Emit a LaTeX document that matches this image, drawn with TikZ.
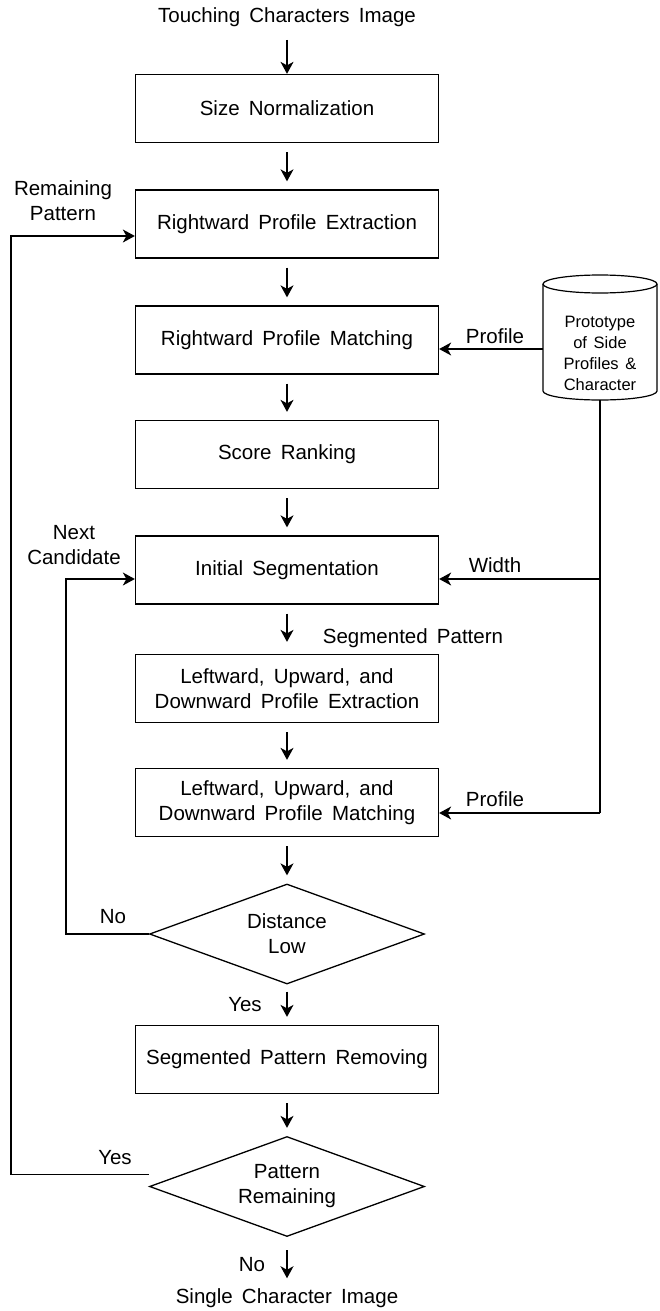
\documentclass[tikz,border=0pt]{standalone}
\usepackage{fontspec}
\setmainfont{Liberation Sans}
\usetikzlibrary{arrows.meta,shapes.geometric,calc}
\newcommand{\mainfnt}{\fontsize{20.5}{25}\selectfont\spaceskip=0.45em plus 0.1em minus 0.05em\relax}
\newcommand{\dbfnt}{\fontsize{16.5}{21}\selectfont\spaceskip=0.4em\relax}
\begin{document}
\begin{tikzpicture}[x=1pt,y=-1pt,
  every node/.style={font=\mainfnt},
  proc/.style={draw, line width=1.3pt, minimum width=303pt, minimum height=68pt, align=center, inner sep=0pt},
  dec/.style={draw, diamond, aspect=2.75, line width=1.3pt, minimum width=275pt, minimum height=100pt, align=center, inner sep=0pt},
  lbl/.style={align=center, inner sep=0pt},
  ln/.style={line width=1.2pt},
  arr/.style={ln, -{Stealth[length=12pt,width=13pt,inset=3.5pt]}},
  flow/.style={arr, shorten <=9pt, shorten >=8pt}]
\useasboundingbox (0,0) rectangle (660,1311);

% main column
\node[lbl] (start) at (287,17) {Touching Characters Image};
\node[proc] (b1) at (287,108.5) {Size Normalization};
\node[proc] (b2) at (287,224) {Rightward Profile Extraction};
\node[proc] (b3) at (287,340) {Rightward Profile Matching};
\node[proc] (b4) at (287,454.5) {Score Ranking};
\node[proc] (b5) at (287,570) {Initial Segmentation};
\node[proc] (b6) at (287,688.5) {Leftward, Upward, and\\Downward Profile Extraction};
\node[proc] (b7) at (287,802.5) {Leftward, Upward, and\\Downward Profile Matching};
\node[dec] (d1) at (287,934) {Distance\\Low};
\node[proc] (b8) at (287,1059.5) {Segmented Pattern Removing};
\node[dec] (d2) at (287,1186.5) {Pattern\\Remaining};
\node[lbl] (end) at (287,1298) {Single Character Image};

% database cylinder
\draw[ln] (600,284) ellipse [x radius=57pt, y radius=9pt];
\draw[ln] (543,284) -- (543,391) .. controls (543,396) and (568,400) .. (600,400)
  .. controls (632,400) and (657,396) .. (657,391) -- (657,284);
\node[lbl, font=\dbfnt] (db) at (600,353) {Prototype\\of Side\\Profiles \&\\Character};
\coordinate (dbW) at (543,349);
\coordinate (dbS) at (600,400);
\coordinate (wj) at (600,579);
\coordinate (pj) at (600,813);

% vertical flow arrows
\draw[arr, shorten <=13pt] (start.south) -- (b1.north);
\draw[flow] (b1.south) -- (b2.north);
\draw[flow] (b2.south) -- (b3.north);
\draw[flow] (b3.south) -- (b4.north);
\draw[flow] (b4.south) -- (b5.north);
\draw[arr, shorten <=9pt, shorten >=12pt] (b5.south) -- (b6.north);
\draw[flow] (b6.south) -- (b7.north);
\draw[flow] (b7.south) -- (d1.north);
\draw[arr, shorten <=7pt, shorten >=8pt] (d1.south) -- (b8.north);
\draw[flow] (b8.south) -- (d2.north);
\draw[arr, shorten <=13pt, shorten >=10pt] (d2.south) -- (end.north);

% database connections
\draw[arr] (dbW) -- (dbW -| b3.east);
\draw[ln] (dbS) -- (pj);
\draw[arr] (wj) -- (wj -| b5.east);
\draw[arr] (pj) -- (pj -| b7.east);

% loops
\coordinate (nc) at (66,579);
\draw[arr] (d1.west) -| (nc) -- (nc -| b5.west);
\coordinate (yd) at ($(d2.west)+(0,-12)$);
\coordinate (rp) at (11,236);
\draw[arr] (yd) -| (rp) -- (rp -| b2.west);

% labels
\node[lbl] (lrp) at (63,201) {Remaining\\Pattern};
\node[lbl] (lnc) at (74,545) {Next\\Candidate};
\node[lbl] (lp1) at (495,336) {Profile};
\node[lbl] (lw) at (495,565) {Width};
\node[lbl] (lsp) at (413,638) {Segmented Pattern};
\node[lbl] (lp2) at (495,799) {Profile};
\node[lbl] (lno1) at (113,917) {No};
\node[lbl] (lyes1) at (245,1005) {Yes};
\node[lbl] (lyes2) at (115,1158) {Yes};
\node[lbl] (lno2) at (252,1265) {No};
\end{tikzpicture}
\end{document}
